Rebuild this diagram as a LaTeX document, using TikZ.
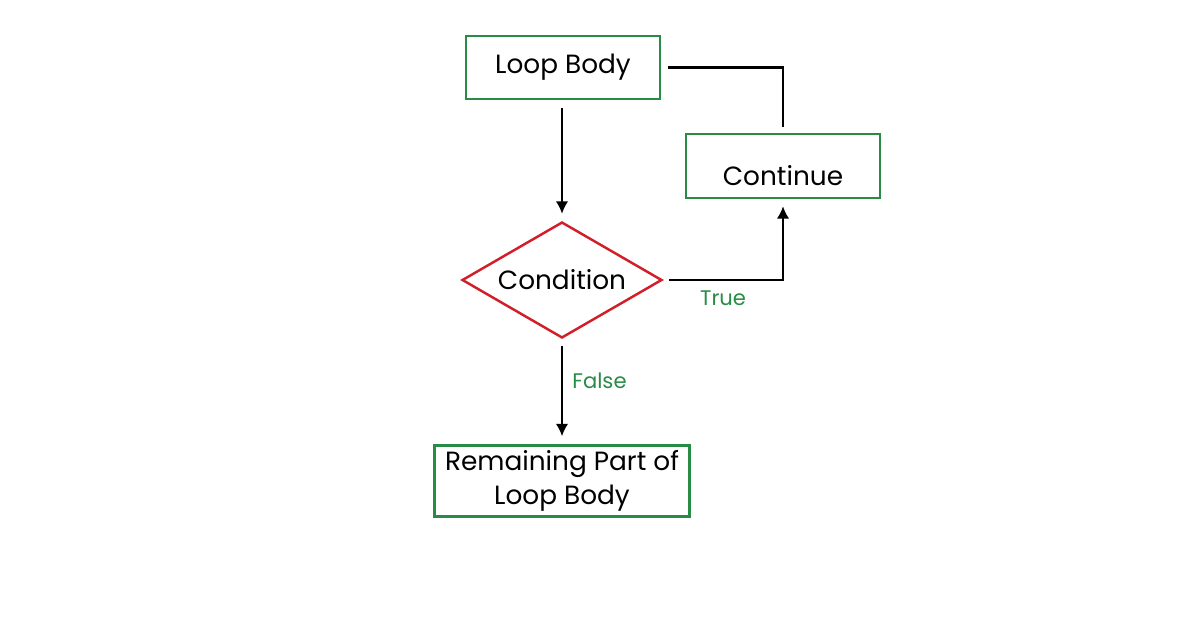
\documentclass[tikz,border=0pt]{standalone}
\usepackage{fontspec}
\setmainfont{Poppins}
\usetikzlibrary{arrows.meta,positioning,shapes.geometric}
\definecolor{boxgreen}{RGB}{40,140,70}
\definecolor{diared}{RGB}{210,30,40}
\tikzset{>=latex}

\begin{document}
\begin{tikzpicture}[x=0.02cm, y=-0.02cm, font=\fontsize{15}{19}\selectfont,
	block/.style={
		draw=boxgreen,
		line width=1.4pt,
		align=center
	},
	decision/.style={
		diamond,
		draw=diared,
		line width=1.4pt,
		aspect=1.72,
		inner sep=1pt
	},
	flow/.style={->, line width=1.2pt, >={Latex[length=7pt,width=7pt]}},
	tag/.style={text=boxgreen, font=\fontsize{12}{14}\selectfont}]
		\useasboundingbox (0,0) rectangle (1196,628);
		\node[block,minimum width=3.88cm,minimum height=1.26cm] (loopbody)  at (563,67.5) {Loop Body};
		\node[block,minimum width=3.88cm,minimum height=1.28cm] (continue) at (783,166) {\raisebox{-0.4cm}[0pt][0pt]{Continue}};
		\node[decision,minimum width=4cm,minimum height=2.32cm] (condition) at (562,280) {Condition};
		\node[block,minimum width=5.1cm,minimum height=1.42cm,inner sep=2pt] (remaining) at (562,481) {Remaining Part of\\Loop Body};
		\coordinate (corner) at (783,67.5);
		
		\draw[flow] ([yshift=-0.16cm]loopbody.south -| condition.north) -- ([yshift=0.14cm]condition.north);
		\draw[flow] ([xshift=0.12cm]condition.east) -| node[tag,pos=0.5,below,yshift=-2pt,xshift=-1.2cm] {True} ([yshift=-0.14cm]continue.south);
		\draw[line width=1.2pt] ([yshift=0.12cm]continue.north) -- (corner) -- ([xshift=0.14cm]loopbody.east);
		\draw[flow] ([yshift=-0.14cm]condition.south) -- node[tag,right,xshift=2pt,pos=0.38] {False} ([yshift=0.16cm]remaining.north);
	\end{tikzpicture}
\end{document}
